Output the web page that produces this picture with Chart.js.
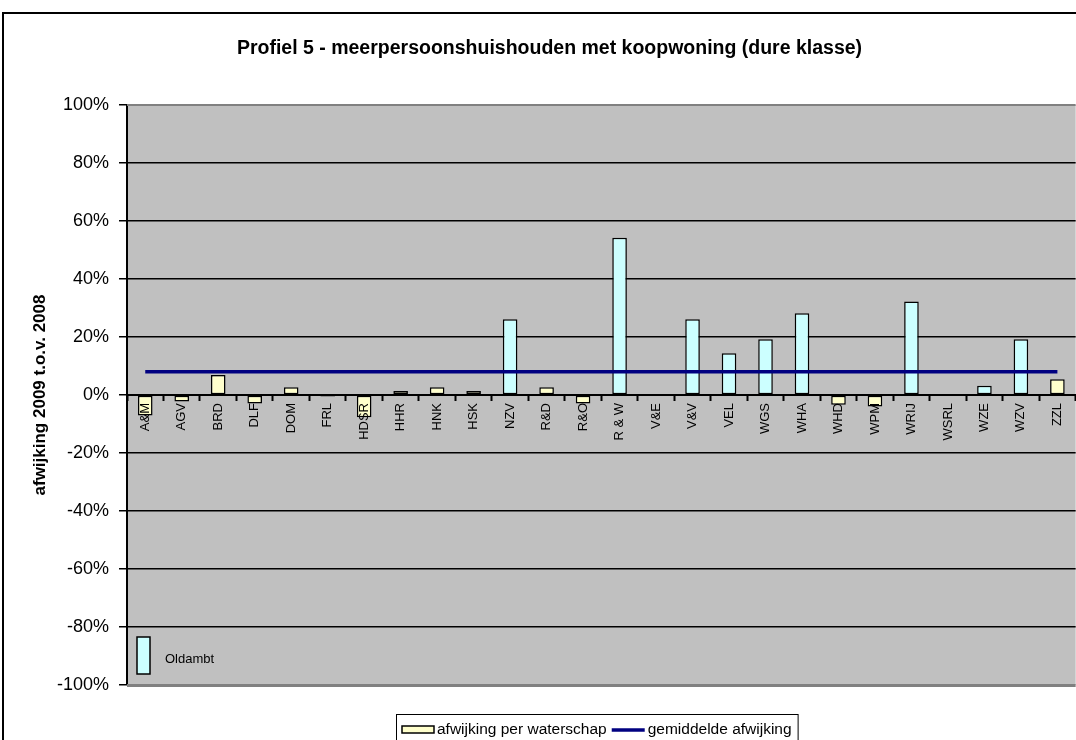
<!DOCTYPE html>
<html>
<head>
<meta charset="utf-8">
<script src="https://cdn.jsdelivr.net/npm/chart.js@4/dist/chart.umd.min.js"></script>
<style>
  html, body { margin: 0; padding: 0; background: #ffffff; overflow: hidden; }
  #wrap { position: absolute; left: 0; top: 0; width: 1076px; height: 740px; }
</style>
</head>
<body>
<div id="wrap"><canvas id="c" width="1076" height="740"></canvas></div>
<script>
const chartTitle = 'Profiel 5 - meerpersoonshuishouden met koopwoning (dure klasse)';
const yAxisTitle = 'afwijking 2009 t.o.v. 2008';
const categories = ['A&M','AGV','BRD','DLF','DOM','FRL','HDSR','HHR','HNK','HSK','NZV','R&D','R&O','R & W','V&E','V&V','VEL','WGS','WHA','WHD','WPM','WRIJ','WSRL','WZE','WZV','ZZL'];
const waterschapLabel = 'afwijking per waterschap';
const waterschapValues = [-7.1, -2.2, 6.9, -2.9, 2.7, -0.5, -7.7, 1.4, 2.7, 1.4, null, 2.7, -2.9, null, 0, null, null, null, null, -3.4, -4.0, null, 0, null, null, 5.4];
const oldambtLabel = 'Oldambt';
const oldambtValues = [null, null, null, null, null, null, null, null, null, null, 26.1, null, null, 54.2, null, 26.1, 14.4, 19.2, 28.2, null, null, 32.2, null, 3.2, 19.2, null];
const meanLabel = 'gemiddelde afwijking';
const meanValues = [8, 8, 8, 8, 8, 8, 8, 8, 8, 8, 8, 8, 8, 8, 8, 8, 8, 8, 8, 8, 8, 8, 8, 8, 8, 8];
const yTicks = [-100, -80, -60, -40, -20, 0, 20, 40, 60, 80, 100];

const FONT = "'Liberation Sans', Arial, sans-serif";
const YELLOW = '#FFFFCC';
const CYAN = '#CCFFFF';
const NAVY = '#000080';

const decorPlugin = {
  id: 'decor',
  beforeDraw(chart) {
    const ctx = chart.ctx, a = chart.chartArea;
    ctx.save();
    ctx.fillStyle = '#ffffff';
    ctx.fillRect(0, 0, chart.width, chart.height);
    ctx.fillStyle = '#C0C0C0';
    ctx.fillRect(a.left, a.top, a.right - a.left, a.bottom - a.top);
    ctx.restore();
  },
  afterDraw(chart) {
    const ctx = chart.ctx, a = chart.chartArea;
    ctx.save();
    // plot area border (top / bottom)
    ctx.strokeStyle = '#808080';
    ctx.lineWidth = 2;
    ctx.beginPath(); ctx.moveTo(a.left, a.top); ctx.lineTo(a.right, a.top); ctx.stroke();
    ctx.lineWidth = 3;
    ctx.beginPath(); ctx.moveTo(a.left, a.bottom + 0.5); ctx.lineTo(a.right, a.bottom + 0.5); ctx.stroke();
    // outer frame
    ctx.strokeStyle = '#000000';
    ctx.lineWidth = 2;
    ctx.strokeRect(3, 13, 1200, 900);
    // title
    ctx.fillStyle = '#000000';
    ctx.font = 'bold 19.5px ' + FONT;
    ctx.textAlign = 'center';
    ctx.textBaseline = 'middle';
    ctx.fillText(chartTitle, 549.5, 49);

    // Oldambt key inside the plot
    const ds = chart.data.datasets;
    const old = ds.find(d => d.label === oldambtLabel);
    ctx.fillStyle = old.backgroundColor;
    ctx.fillRect(137, 637, 13, 37);
    ctx.strokeStyle = '#000000';
    ctx.lineWidth = 1.5;
    ctx.strokeRect(137, 637, 13, 37);
    ctx.fillStyle = '#000000';
    ctx.font = '13px ' + FONT;
    ctx.textAlign = 'left';
    ctx.textBaseline = 'middle';
    ctx.fillText(old.label, 165, 659);

    // bottom legend
    const ws = ds.find(d => d.label === waterschapLabel);
    const mn = ds.find(d => d.label === meanLabel);
    ctx.font = '15.5px ' + FONT;
    const x0 = 396;
    let x = x0 + 6;
    ctx.fillStyle = ws.backgroundColor;
    ctx.fillRect(x, 726, 32, 7);
    ctx.strokeStyle = '#000000';
    ctx.lineWidth = 1.5;
    ctx.strokeRect(x, 726, 32, 7);
    x += 35;
    ctx.fillStyle = '#000000';
    ctx.fillText(ws.label, x, 730);
    x += ctx.measureText(ws.label).width + 5;
    ctx.strokeStyle = mn.borderColor;
    ctx.lineWidth = 3.5;
    ctx.beginPath(); ctx.moveTo(x, 730); ctx.lineTo(x + 33, 730); ctx.stroke();
    x += 36;
    ctx.fillText(mn.label, x, 730);
    x += ctx.measureText(mn.label).width + 6;
    ctx.strokeStyle = '#000000';
    ctx.lineWidth = 1;
    ctx.strokeRect(x0 + 0.5, 714.5, x - x0, 60);
    ctx.restore();
  }
};

new Chart(document.getElementById('c'), {
  data: {
    labels: categories,
    datasets: [
      { type: 'line', label: meanLabel, data: meanValues, borderColor: NAVY, borderWidth: 3.5,
        pointRadius: 0, fill: false, order: 0 },
      { type: 'bar', label: waterschapLabel, data: waterschapValues, backgroundColor: YELLOW,
        borderColor: '#000000', borderWidth: 1.5, borderSkipped: false, order: 1 },
      { type: 'bar', label: oldambtLabel, data: oldambtValues, backgroundColor: CYAN,
        borderColor: '#000000', borderWidth: 1.5, borderSkipped: false, order: 2 }
    ]
  },
  options: {
    responsive: false,
    animation: false,
    devicePixelRatio: 1,
    layout: { padding: { top: 105, bottom: 55, left: 0, right: 0 } },
    datasets: { bar: { skipNull: true, barPercentage: 0.4, categoryPercentage: 1 } },
    plugins: { legend: { display: false }, title: { display: false }, tooltip: { enabled: false } },
    scales: {
      x: {
        type: 'category',
        position: { y: 0 },
        offset: true,
        grid: { display: true, drawOnChartArea: false, drawTicks: true, tickLength: 5, tickWidth: 2, tickColor: '#000000', offset: true, z: 1 },
        border: { display: true, color: '#000000', width: 2, z: 1 },
        ticks: { autoSkip: false, maxRotation: 90, minRotation: 90, padding: 3, color: '#000000', z: 1,
                 font: { family: FONT, size: 13 } },
        afterFit(s) { s.height = 0; }
      },
      y: {
        type: 'linear',
        position: 'left',
        min: -100, max: 100,
        afterBuildTicks(s) { s.ticks = yTicks.map(v => ({ value: v })); },
        grid: {
          color: (c) => (c.tick && Math.abs(c.tick.value) === 100) ? 'rgba(0,0,0,0)' : '#000000',
          tickColor: '#000000', lineWidth: 1.5, tickLength: 8, drawTicks: true
        },
        border: { display: true, color: '#000000', width: 2 },
        ticks: { padding: 10, color: '#000000', font: { family: FONT, size: 18 },
                 callback: (v) => v + '%' },
        title: { display: true, text: yAxisTitle, color: '#000000', padding: { top: 30, bottom: 0 },
                 font: { family: FONT, size: 17, weight: 'bold' } },
        afterFit(s) { s.width = 127; }
      }
    }
  },
  plugins: [decorPlugin]
});
</script>
</body>
</html>
